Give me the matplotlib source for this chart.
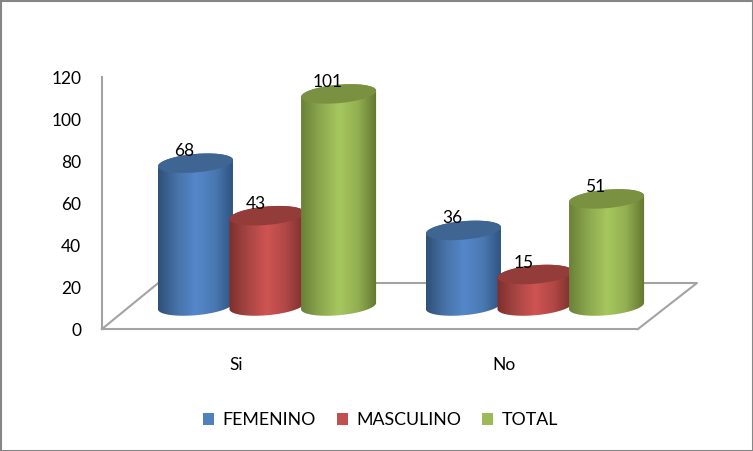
import numpy as np
import matplotlib
matplotlib.use('Agg')
import matplotlib.pyplot as plt
from matplotlib.colors import LinearSegmentedColormap
from matplotlib.patches import Patch, PathPatch, Rectangle
from matplotlib.path import Path

categories = ['Si', 'No']
series = ['FEMENINO', 'MASCULINO', 'TOTAL']
femenino = [68, 36]
masculino = [43, 15]
total = [101, 51]
yticks = [0, 20, 40, 60, 80, 100, 120]

colors = ['#4f81bd', '#c0504d', '#9bbb59']
tops = ['#3f6592', '#943c3a', '#7a9142']
sides = [['#2f5179', '#4872a8', '#5587ca', '#4a79b2', '#2f5380'],
         ['#7e2f2d', '#a84644', '#cf5452', '#b04846', '#7c2f2d'],
         ['#6b8138', '#8ca84f', '#a6c75e', '#93b052', '#63782f']]

plt.rcParams['font.family'] = ['Lato', 'DejaVu Sans']
plt.rcParams['font.size'] = 12.5

W, H = 753, 451
fig = plt.figure(figsize=(W/100, H/100), dpi=100)
ax = fig.add_axes([102/W, (H-329)/H, 536/W, 252/H])
fig.add_artist(Rectangle((0.5/W, 0.5/H), (W-1)/W, (H-1)/H, transform=fig.transFigure,
                         fill=False, ec='#868686', lw=1.5))

# 3d look: bars stand part way into the floor
depth_x = 0.21
depth_y = 21.9
bar_x = 0.1157
bar_w = 0.28
step = 0.267
semi_y = 4.4
tilt = 1.5
gray = '#a3a3a3'


def ring(cx, level, t):
    return cx + bar_w/2*np.cos(t), level + semi_y*np.sin(t) + tilt*np.cos(t)


def cylinder(cx, value, base, n):
    level = base + value
    xt, yt = ring(cx, level, np.linspace(0, np.pi, 60))
    xb, yb = ring(cx, base, np.linspace(np.pi, 2*np.pi, 60))
    body = np.column_stack([np.r_[xt, xb], np.r_[yt, yb]])
    z = 3 + n
    clip = PathPatch(Path(np.vstack([body, body[:1]])), transform=ax.transData,
                     fc='none', ec='none', zorder=z, clip_on=False)
    ax.add_patch(clip)
    cmap = LinearSegmentedColormap.from_list('side', sides[n])
    im = ax.imshow(np.linspace(0, 1, 80)[None, :], cmap=cmap, aspect='auto',
                   extent=[cx-bar_w/2, cx+bar_w/2, base-8, level+8], zorder=z,
                   interpolation='bilinear')
    im.set_clip_path(clip)
    # last bar runs past the axes box on the right
    im.set_clip_box(fig.bbox)
    xe, ye = ring(cx, level, np.linspace(0, 2*np.pi, 120))
    ax.fill(xe, ye, color=tops[n], zorder=z+0.5, clip_on=False, lw=0)
    ax.annotate(str(value), (cx, level), xytext=(-11, 12), textcoords='offset pixels',
                ha='center', va='center', zorder=10, color='black', annotation_clip=False)


# floor outline
ax.plot([0, depth_x, 2+depth_x+0.01, 2], [0, depth_y, depth_y, 0], color=gray, lw=1.5,
        clip_on=False, zorder=1)

for i, vals in enumerate(zip(femenino, masculino, total)):
    centre = i + 0.5 + bar_x
    for n, v in enumerate(vals):
        cylinder(centre + (n-1)*step, v, depth_y/2, n)

ax.set_xlim(0, 2)
ax.set_ylim(0, 120)
ax.set_xticks([0.5, 1.5], categories)
ax.set_yticks(yticks)
ax.tick_params(axis='x', length=0, pad=20)
ax.tick_params(axis='y', length=0, pad=15)
ax.patch.set_visible(False)
for s in ['top', 'right']:
    ax.spines[s].set_visible(False)
for s in ['left', 'bottom']:
    ax.spines[s].set_color(gray)
    ax.spines[s].set_linewidth(1.5)

handles = [Patch(fc=c, ec='none') for c in colors]
fig.legend(handles, series, ncol=3, loc='center', bbox_to_anchor=(380.5/W, (H-420)/H),
           frameon=False, fontsize=12.8, handlelength=0.62, handleheight=0.62, handletextpad=0.45,
           columnspacing=1.2, borderpad=0)

fig.savefig('out.png', dpi=100, facecolor='white')
